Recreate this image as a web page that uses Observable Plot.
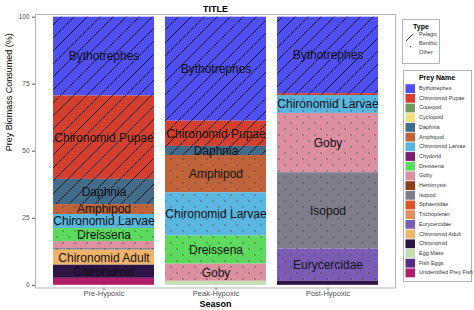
<!DOCTYPE html>
<html><head><meta charset="utf-8">
<script src="https://cdn.jsdelivr.net/npm/d3@7"></script>
<script src="https://cdn.jsdelivr.net/npm/@observablehq/plot@0.6"></script>
<style>
body{margin:0;background:#fff;font-family:"Liberation Sans",Arial,sans-serif;}
#wrap{position:relative;width:474px;height:310px;overflow:hidden;}
#wrap svg{position:absolute;left:0;top:0;}
</style></head>
<body><div id="wrap"></div>
<script>
const seasons = ["Pre-Hypoxic","Peak-Hypoxic","Post-Hypoxic"];
const preyNames = ["Bythotrephes","Chironomid Pupae","Copepod","Cyclopoid","Daphnia","Amphipod","Chironomid Larvae","Chydorid","Dreissena","Goby","Hemimysis","Isopod","Sphaeriidae","Trichopteran","Eurycercidae","Chironomid Adult","Chironomid","Egg Mass","Fish Eggs","Unidentified Prey Fish"];
const preyColors = ["#4f4ff2","#d4402f","#6e9b5b","#eee27b","#426c8a","#bf633a","#58b6e0","#7a1e6e","#5cdb5f","#dc90a0","#8b3f1c","#7f7d8c","#da5428","#e39160","#7b5cb5","#efb36a","#2e1446","#c8dcb4","#5a2a88","#b01e6a"];
const preyTypes = ["Pelagic","Pelagic","Pelagic","Pelagic","Pelagic","Benthic","Benthic","Benthic","Benthic","Benthic","Benthic","Benthic","Benthic","Benthic","Benthic","Other","Other","Other","Other","Other"];
const typeNames = ["Pelagic","Benthic","Other"];
const preValues  = [29.4,31.1,0,0,9.4,3.7,5.2,0,4.9,2.6,0,0.6,0,0,0,5.6,4.9,0,0,2.6];
const peakValues = [38.8,9.4,0,0,3.4,13.9,16.1,0,10.5,6.4,0,0,0,0,0,0,0,1.5,0,0];
const postValues = [28.5,0.7,0,0,0,0,6.7,0,0,22.1,0,28.5,0,0,12.0,0,1.5,0,0,0];
const yTicks = [0,25,50,75,100];
const labelMin = 3;
const titleText = "TITLE";
const xTitle = "Season";
const yTitle = "Prey Biomass Consumed (%)";

const rows = [];
[preValues, peakValues, postValues].forEach((vals, si) => vals.forEach((v, i) => {
  if (v > 0) rows.push({season: seasons[si], prey: preyNames[i], type: preyTypes[i], value: v});
}));

const stackOpts = {x: "season", y: "value", z: "prey", order: preyNames.slice().reverse()};
const FONT = "Liberation Sans, Arial, sans-serif";

const chart = Plot.plot({
  width: 474, height: 310,
  marginLeft: 35, marginRight: 79, marginTop: 14, marginBottom: 22.5,
  style: {fontFamily: FONT, color: "#4d4d4d", background: "#fff"},
  x: {domain: seasons, paddingInner: 0.1, paddingOuter: 0.15, label: null},
  y: {domain: [-1, 101], label: null},
  color: {domain: preyNames, range: preyColors},
  opacity: {domain: [0, 1], range: [0, 1]},
  marks: [
    Plot.barY(rows, Plot.stackY({...stackOpts, fill: "prey"})),
    Plot.barY(rows, Plot.stackY({...stackOpts, fill: "url(#hatchLines)", fillOpacity: d => d.type === "Pelagic" ? 1 : 0})),
    Plot.barY(rows, Plot.stackY({...stackOpts, fill: "url(#hatchDots)", fillOpacity: d => d.type === "Benthic" ? 1 : 0})),
    Plot.text(rows, Plot.stackY({...stackOpts, text: d => d.value >= labelMin ? d.prey : "", fontSize: 12, fill: "#111", fontFamily: FONT})),
    Plot.axisY(yTicks, {tickSize: 3, tickPadding: 3, fontSize: 6.5, label: null, stroke: "#555"}),
    Plot.axisX({tickSize: 2.5, tickPadding: 0, fontSize: 7.5, label: null, stroke: "#555"}),
    Plot.frame({stroke: "#b3b3b3"}),
    Plot.text([titleText], {text: d => d, frameAnchor: "top", dy: -9, fontWeight: "bold", fontSize: 9, fill: "#000"}),
    Plot.text([xTitle], {text: d => d, frameAnchor: "bottom", dy: 18.5, fontWeight: "bold", fontSize: 9, fill: "#000"}),
    Plot.text([yTitle], {text: d => d, frameAnchor: "left", dx: -26, rotate: -90, fontSize: 9, fill: "#000"})
  ]
});
const wrap = document.getElementById("wrap");
wrap.appendChild(chart);
const svgEl = chart.tagName.toLowerCase() === "svg" ? chart : chart.querySelector("svg");
const defs = d3.select(svgEl).insert("defs", ":first-child");
const pl = defs.append("pattern").attr("id", "hatchLines").attr("patternUnits", "userSpaceOnUse").attr("width", 13).attr("height", 13);
pl.append("path").attr("d", "M-2,2 L2,-2 M0,13 L13,0 M11,15 L15,11").attr("stroke", "#000").attr("stroke-width", 0.8).attr("fill", "none");
const pd = defs.append("pattern").attr("id", "hatchDots").attr("patternUnits", "userSpaceOnUse").attr("width", 12).attr("height", 12);
pd.append("circle").attr("cx", 3).attr("cy", 3).attr("r", 0.65).attr("fill", "#444");
pd.append("circle").attr("cx", 9).attr("cy", 9).attr("r", 0.65).attr("fill", "#444");

// Legends
const lg = d3.select(wrap).append("svg").attr("width", 474).attr("height", 310)
  .style("font-family", FONT).style("pointer-events", "none");
// Type legend
lg.append("rect").attr("x", 402.5).attr("y", 19.5).attr("width", 37).attr("height", 44).attr("fill", "#fff").attr("stroke", "#b3b3b3");
lg.append("text").attr("x", 421).attr("y", 27).attr("text-anchor", "middle").attr("dominant-baseline", "middle")
  .attr("font-size", 7).attr("font-weight", "bold").text("Type");
typeNames.forEach((t, i) => {
  const cy = 35 + i * 9;
  lg.append("text").attr("x", 419).attr("y", cy).attr("dominant-baseline", "middle").attr("font-size", 5.5).attr("fill", "#333").text(t);
  if (t === "Pelagic") lg.append("line").attr("x1", 406).attr("y1", 41).attr("x2", 413).attr("y2", 34).attr("stroke", "#000").attr("stroke-width", 0.8);
  if (t === "Benthic") lg.append("circle").attr("cx", 410.5).attr("cy", 46.5).attr("r", 0.7).attr("fill", "#333");
});
// Prey Name legend
lg.append("rect").attr("x", 403.5).attr("y", 70.5).attr("width", 68).attr("height", 211).attr("fill", "#fff").attr("stroke", "#b3b3b3");
lg.append("text").attr("x", 437).attr("y", 78).attr("text-anchor", "middle").attr("dominant-baseline", "middle")
  .attr("font-size", 7).attr("font-weight", "bold").text("Prey Name");
preyNames.forEach((n, i) => {
  const cy = 88.6 + i * 9.7;
  lg.append("rect").attr("x", 405.5).attr("y", cy - 4.4).attr("width", 9.5).attr("height", 8.8).attr("fill", preyColors[i]);
  lg.append("text").attr("x", 419).attr("y", cy).attr("dominant-baseline", "middle").attr("font-size", 5.5).attr("fill", "#333").text(n);
});
</script></body></html>
